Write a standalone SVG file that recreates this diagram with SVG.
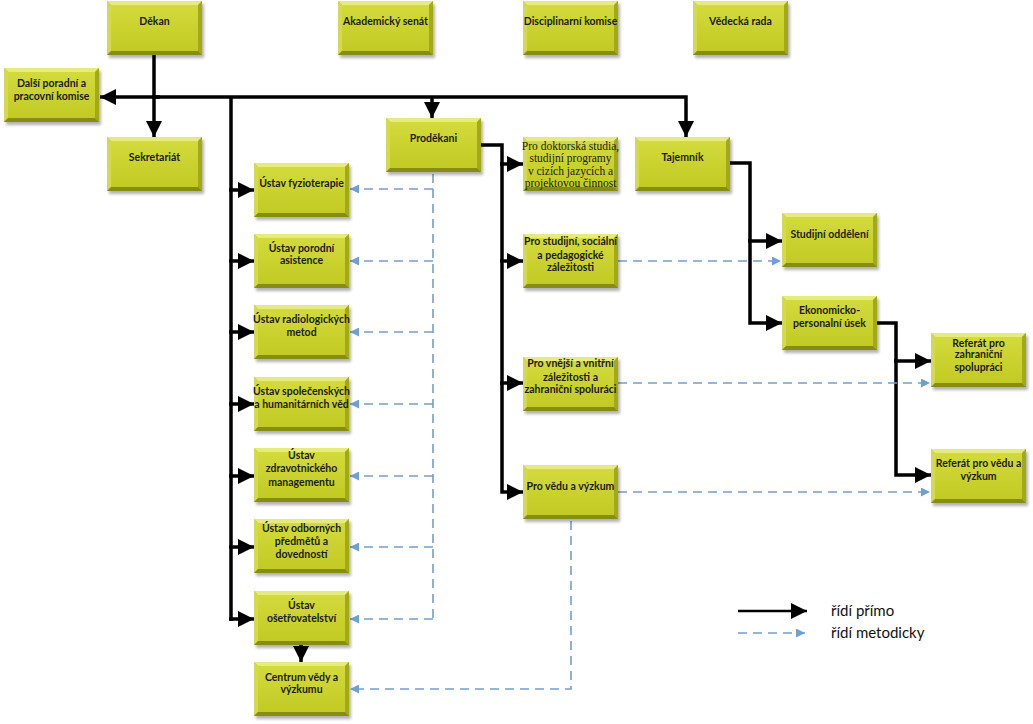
<svg xmlns="http://www.w3.org/2000/svg" xmlns:xlink="http://www.w3.org/1999/xlink" width="1033" height="724" viewBox="0 0 1033 724">
<style>
.t{font-family:Lato,"Liberation Sans",sans-serif;font-size:10.5px;font-weight:bold;fill:#1b1b10;text-anchor:middle}
.s{font-family:"Liberation Serif",serif;font-size:11.5px;fill:#1b1b10;text-anchor:middle}
.k{fill:none;stroke:#000;stroke-width:3.5}
.d{fill:none;stroke:#6f9fd3;stroke-width:1.6;stroke-dasharray:9 6}
.lg{font-family:Lato,"Liberation Sans",sans-serif;font-size:15px;fill:#111}
</style>
<defs>
<filter id="sh" x="-10%" y="-10%" width="130%" height="140%"><feGaussianBlur stdDeviation="1.5"/></filter>
<linearGradient id="face" x1="0" y1="0" x2="0" y2="1">
<stop offset="0" stop-color="#d3da3c"/><stop offset="1" stop-color="#c2ca24"/>
</linearGradient>
<symbol id="box" overflow="visible">
<rect x="2" y="3" width="95" height="54" fill="#000" opacity="0.3" filter="url(#sh)"/>
<rect x="0" y="0" width="95" height="54" fill="#b8c01e"/>
<polygon points="0,0 95,0 91,4 4,4" fill="#e6eb80"/>
<polygon points="0,0 4,4 4,50 0,54" fill="#d4da4a"/>
<polygon points="95,0 95,54 91,50 91,4" fill="#a3a91a"/>
<polygon points="0,54 95,54 91,50 4,50" fill="#878d12"/>
<rect x="4" y="4" width="87" height="46" fill="url(#face)"/>
</symbol>
<marker id="ab" markerUnits="userSpaceOnUse" markerWidth="16" markerHeight="16" viewBox="0 0 14 14" refX="14" refY="7" orient="auto">
<path d="M0,0 L14,7 L0,14 Z" fill="#000"/>
</marker>
<marker id="ad" markerUnits="userSpaceOnUse" markerWidth="9" markerHeight="9" viewBox="0 0 9 9" refX="9" refY="4.5" orient="auto">
<path d="M0,0 L9,4.5 L0,9 Z" fill="#6f9fd3"/>
</marker>
</defs>
<rect width="1033" height="724" fill="#fff"/>

<g id="connectors">
<path class="k" d="M154,54 V137" marker-end="url(#ab)"/>
<path class="k" d="M160,97 H100" marker-end="url(#ab)"/>
<path class="k" d="M152,97 H686 V137" marker-end="url(#ab)"/>
<path class="k" d="M432,97 V118" marker-end="url(#ab)"/>
<path class="k" d="M231,97 V621"/>
<path class="k" d="M229,190 H254" marker-end="url(#ab)"/>
<path class="k" d="M229,261 H254" marker-end="url(#ab)"/>
<path class="k" d="M229,332 H254" marker-end="url(#ab)"/>
<path class="k" d="M229,404 H254" marker-end="url(#ab)"/>
<path class="k" d="M229,476 H254" marker-end="url(#ab)"/>
<path class="k" d="M229,547 H254" marker-end="url(#ab)"/>
<path class="k" d="M229,619 H254" marker-end="url(#ab)"/>
<path class="k" d="M301,645 V662" marker-end="url(#ab)"/>
<path class="k" d="M481,145 H502 V492 H523" marker-end="url(#ab)"/>
<path class="k" d="M500,164 H523" marker-end="url(#ab)"/>
<path class="k" d="M500,261 H523" marker-end="url(#ab)"/>
<path class="k" d="M500,383 H523" marker-end="url(#ab)"/>
<path class="k" d="M729,163 H750 V323 H782" marker-end="url(#ab)"/>
<path class="k" d="M748,241 H782" marker-end="url(#ab)"/>
<path class="k" d="M876,323 H896 V475 H931" marker-end="url(#ab)"/>
<path class="k" d="M894,361 H931" marker-end="url(#ab)"/>

<path class="d" d="M433,174 V619"/>
<path class="d" d="M433,189 H350" marker-end="url(#ad)"/>
<path class="d" d="M433,261 H350" marker-end="url(#ad)"/>
<path class="d" d="M433,332 H350" marker-end="url(#ad)"/>
<path class="d" d="M433,404 H350" marker-end="url(#ad)"/>
<path class="d" d="M433,476 H350" marker-end="url(#ad)"/>
<path class="d" d="M433,547 H350" marker-end="url(#ad)"/>
<path class="d" d="M433,619 H350" marker-end="url(#ad)"/>
<path class="d" d="M618,261 H781" marker-end="url(#ad)"/>
<path class="d" d="M618,383 H930" marker-end="url(#ad)"/>
<path class="d" d="M618,492 H930" marker-end="url(#ad)"/>
<path class="d" d="M571,521 V689 H350" marker-end="url(#ad)"/>
</g>

<g id="n-dekan"><use href="#box" x="107" y="1"/><text class="t" x="154.5" y="25">Děkan</text></g>
<g id="n-senat"><use href="#box" x="338" y="1"/><text class="t" x="385.5" y="25">Akademický senát</text></g>
<g id="n-disc"><use href="#box" x="523" y="1"/><text class="t" x="570.5" y="25">Disciplinarní komise</text></g>
<g id="n-rada"><use href="#box" x="693" y="1"/><text class="t" x="740.5" y="25">Vědecká rada</text></g>
<g id="n-dalsi"><use href="#box" x="4" y="68"/><text class="t" x="51.5" y="87">Další poradní a</text><text class="t" x="51.5" y="100">pracovní komise</text></g>
<g id="n-sekr"><use href="#box" x="107" y="137"/><text class="t" x="154.5" y="161">Sekretariát</text></g>
<g id="n-prodek"><use href="#box" x="386" y="118"/><text class="t" x="433.5" y="142">Proděkani</text></g>
<g id="n-dokt"><use href="#box" x="523" y="137"/><text class="s" x="570.5" y="150">Pro doktorská studia,</text><text class="s" x="570.5" y="162">studijní programy</text><text class="s" x="570.5" y="175">v cizích jazycích a</text><text class="s" x="570.5" y="187">projektovou činnost</text></g>
<g id="n-taj"><use href="#box" x="635" y="137"/><text class="t" x="682.5" y="161">Tajemník</text></g>
<g id="n-fyzio"><use href="#box" x="254" y="163"/><text class="t" x="301.5" y="187">Ústav fyzioterapie</text></g>
<g id="n-porod"><use href="#box" x="254" y="234"/><text class="t" x="301.5" y="252">Ústav porodní</text><text class="t" x="301.5" y="264">asistence</text></g>
<g id="n-radio"><use href="#box" x="254" y="305"/><text class="t" x="301.5" y="323">Ústav radiologických</text><text class="t" x="301.5" y="336">metod</text></g>
<g id="n-spol"><use href="#box" x="254" y="377"/><text class="t" x="301.5" y="395">Ústav společenských</text><text class="t" x="301.5" y="408">a humanitárních věd</text></g>
<g id="n-zdrav"><use href="#box" x="254" y="448"/><text class="t" x="301.5" y="459">Ústav</text><text class="t" x="301.5" y="472">zdravotnického</text><text class="t" x="301.5" y="486">managementu</text></g>
<g id="n-odbor"><use href="#box" x="254" y="519"/><text class="t" x="301.5" y="532">Ústav odborných</text><text class="t" x="301.5" y="545">předmětů a</text><text class="t" x="301.5" y="558">dovedností</text></g>
<g id="n-oset"><use href="#box" x="254" y="591"/><text class="t" x="301.5" y="609">Ústav</text><text class="t" x="301.5" y="622">ošetřovatelství</text></g>
<g id="n-centrum"><use href="#box" x="254" y="662"/><text class="t" x="301.5" y="681">Centrum vědy a</text><text class="t" x="301.5" y="693">výzkumu</text></g>
<g id="n-studij"><use href="#box" x="523" y="234"/><text class="t" x="570.5" y="245">Pro studijní, sociální</text><text class="t" x="570.5" y="259">a pedagogické</text><text class="t" x="570.5" y="271">záležitosti</text></g>
<g id="n-vnejsi"><use href="#box" x="523" y="357"/><text class="t" x="570.5" y="367">Pro vnější a vnitřní</text><text class="t" x="570.5" y="381">záležitosti a</text><text class="t" x="570.5" y="393">zahraniční spoluráci</text></g>
<g id="n-veda"><use href="#box" x="523" y="465"/><text class="t" x="570.5" y="490">Pro vědu a výzkum</text></g>
<g id="n-studodd"><use href="#box" x="782" y="213"/><text class="t" x="829.5" y="238">Studijní oddělení</text></g>
<g id="n-ekon"><use href="#box" x="782" y="296"/><text class="t" x="829.5" y="314">Ekonomicko-</text><text class="t" x="829.5" y="327">personalní úsek</text></g>
<g id="n-refzahr"><use href="#box" x="931" y="333"/><text class="t" x="978.5" y="347">Referát pro</text><text class="t" x="978.5" y="358">zahraniční</text><text class="t" x="978.5" y="371">spolupráci</text></g>
<g id="n-refveda"><use href="#box" x="931" y="449"/><text class="t" x="978.5" y="467">Referát pro vědu a</text><text class="t" x="978.5" y="480">výzkum</text></g>

<g id="legend">
<path class="k" d="M738,611 H807" style="stroke-width:2.5" marker-end="url(#ab)"/>
<path class="d" d="M738,633 H805" marker-end="url(#ad)"/>
<text class="lg" x="831" y="616">řídí přímo</text>
<text class="lg" x="831" y="638">řídí metodicky</text>
</g>
</svg>
